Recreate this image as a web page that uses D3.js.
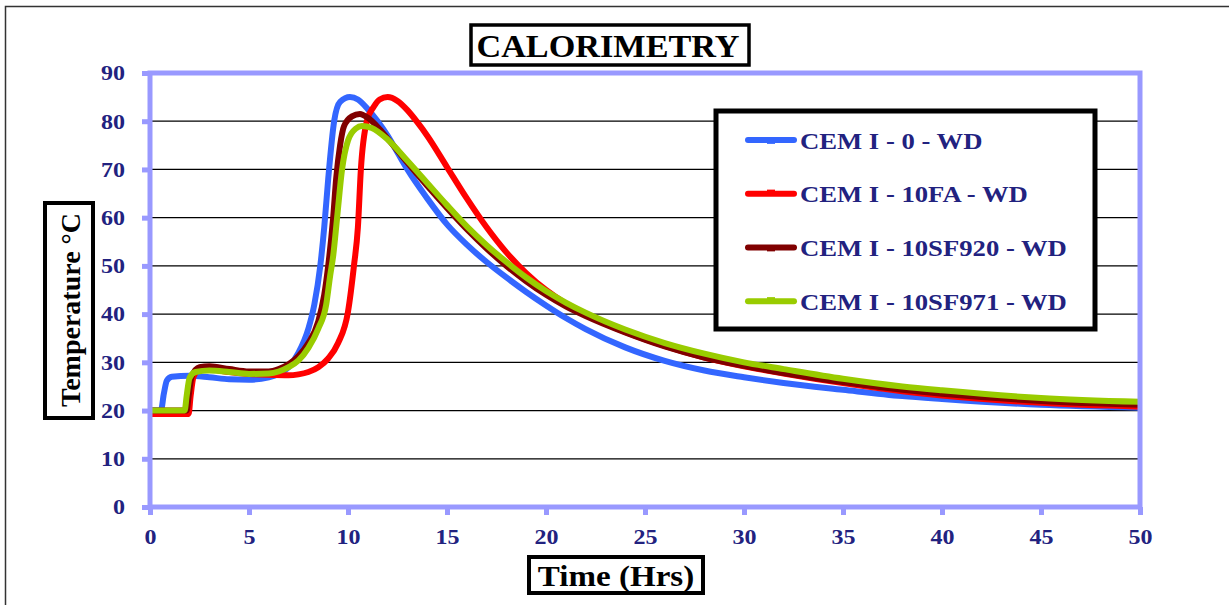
<!DOCTYPE html>
<html>
<head>
<meta charset="utf-8">
<script src="https://cdn.jsdelivr.net/npm/d3@7"></script>
<style>
    body { margin: 0; background: #fff; }
    text { font-family: "Liberation Serif", "Times New Roman", serif; font-weight: bold; }
</style>
</head>
<body>
<div id="chart"></div>
<script>
// series: [hours, temperature °C]
const seriesNames = ['CEM I - 0 - WD', 'CEM I - 10FA - WD', 'CEM I - 10SF920 - WD', 'CEM I - 10SF971 - WD'];
const seriesColors = ['#3366FF', '#FF0000', '#800000', '#99CC00'];

const cem0 = [[0, 20], [0.55, 20], [0.7, 23.5], [0.85, 26.2], [1.1, 27], [2, 27.2], [3, 26.9], [4, 26.5],
    [5, 26.4], [6, 26.9], [6.5, 27.6], [7, 29], [7.5, 32], [8, 37], [8.3, 42], [8.6, 50], [8.8, 58],
    [9, 68], [9.3, 80], [9.6, 84], [10.1, 85], [10.5, 84.5], [11, 82.5], [11.5, 80], [12, 77],
    [12.5, 73.5], [13, 70], [14, 64], [15, 58.6], [16, 54.4], [17, 50.8], [18, 47.6], [19, 44.6],
    [20, 41.8], [21, 39.2], [22, 36.9], [24, 33.1], [26, 30.3], [28, 28.3], [30, 26.9], [32, 25.7],
    [35, 24.3], [38, 23], [40, 22.4], [45, 21.2], [50, 20.6]];

const cem10fa = [[0, 19.3], [1.95, 19.3], [2.05, 23], [2.2, 27], [2.5, 28.4], [3, 28.5], [4, 28],
    [5, 27.6], [6, 27.4], [7, 27.3], [7.5, 27.5], [8, 28], [8.5, 29], [9, 30.8], [9.5, 34], [10, 40.5],
    [10.3, 50], [10.5, 58], [10.65, 70], [10.95, 80], [11.3, 83], [11.6, 84.5], [12, 85], [12.5, 84.2],
    [13, 82.3], [13.5, 79.8], [14, 77], [15, 70.5], [16, 64], [17, 58], [18, 52.8], [19, 48.5],
    [20, 45], [21, 42.2], [22, 39.9], [23, 38], [24, 36.3], [26, 33.4], [28, 31], [30, 29.2],
    [32, 27.7], [35, 25.7], [38, 24], [40, 23.1], [45, 21.6], [50, 20.8]];

const cem10sf920 = [[0, 20], [1.85, 20], [1.95, 23], [2.1, 27], [2.5, 29], [3, 29.2], [4, 28.6],
    [5, 28.1], [6, 28.1], [6.5, 28.6], [7, 29.6], [7.5, 31.3], [8, 34], [8.5, 38.5], [8.8, 44],
    [9, 50], [9.25, 60], [9.4, 68], [9.6, 75], [9.8, 79], [10.2, 81], [10.6, 81.5], [11, 80.7],
    [11.5, 78.8], [12, 76.4], [13, 71.4], [14, 66.6], [15, 62], [16, 57.6], [17, 53.6], [18, 50],
    [19, 46.8], [20, 44], [21, 41.6], [22, 39.6], [24, 36.2], [26, 33.3], [28, 31], [30, 29.3],
    [32, 27.8], [35, 25.9], [38, 24.3], [40, 23.5], [45, 22], [50, 21.2]];

const cem10sf971 = [[0, 20], [1.75, 20], [1.85, 23], [2, 26.8], [2.3, 28], [3, 28.3], [4, 28],
    [5, 27.6], [6, 27.7], [6.5, 28.1], [7, 29], [7.5, 30.4], [8, 33], [8.5, 37], [8.9, 42],
    [9.1, 48], [9.25, 52], [9.45, 60], [9.7, 70], [10, 76], [10.4, 78.5], [10.7, 79], [11.2, 78.6],
    [12, 76.2], [13, 71.8], [14, 67.2], [15, 62.6], [16, 58.2], [17, 54.3], [18, 50.8], [19, 47.6],
    [20, 44.8], [21, 42.4], [22, 40.3], [24, 36.8], [26, 34], [28, 31.8], [30, 30], [32, 28.6],
    [35, 26.6], [38, 25], [40, 24.2], [45, 22.6], [50, 21.8]];

const allSeries = [cem0, cem10fa, cem10sf920, cem10sf971];
const xTicks = d3.range(0, 51, 5);
const yTicks = d3.range(0, 91, 10);

const width = 1229;
const height = 605;
const plot = { left: 150, top: 73, right: 1140, bottom: 507 };
const navy = '#22227F';
const frameColor = '#9999FF';

const svg = d3.select('#chart').append('svg')
    .attr('width', width)
    .attr('height', height);

// outer chart border
svg.append('rect')
    .attr('x', 5.5).attr('y', 6.5)
    .attr('width', width + 20).attr('height', height + 20)
    .attr('fill', 'none')
    .attr('stroke', '#333')
    .attr('stroke-width', 1.5);

const x = d3.scaleLinear().domain([0, 50]).range([plot.left, plot.right]);
const y = d3.scaleLinear().domain([0, 90]).range([plot.bottom, plot.top]);

// gridlines
svg.append('g')
    .selectAll('line')
    .data(yTicks.filter(d => d > 0 && d < 90))
    .enter().append('line')
    .attr('x1', plot.left)
    .attr('x2', plot.right)
    .attr('y1', d => y(d))
    .attr('y2', d => y(d))
    .attr('stroke', '#000')
    .attr('stroke-width', 1.2);

// helper: place text, widened a bit like the original picture
function place(sel, px, py, k) {
    sel.attr('transform', `translate(${px},${py}) scale(${k},1)`);
}

// y axis ticks + labels
const yAxis = svg.append('g')
    .attr('transform', `translate(${plot.left},0)`)
    .call(d3.axisLeft(y).tickValues(yTicks).tickSize(8).tickPadding(0).tickFormat(d3.format('d')));
yAxis.select('.domain').remove();
yAxis.selectAll('.tick line').attr('stroke', frameColor).attr('stroke-width', 5);
yAxis.selectAll('.tick text')
    .attr('x', null).attr('dy', null)
    .attr('fill', navy)
    .style('font-size', '20px')
    .attr('text-anchor', 'end')
    .attr('dominant-baseline', 'central')
    .each(function () { place(d3.select(this), -25, 0, 1.2); });

// x axis ticks + labels
const xAxis = svg.append('g')
    .attr('transform', `translate(0,${plot.bottom})`)
    .call(d3.axisBottom(x).tickValues(xTicks).tickSize(8).tickPadding(0));
xAxis.select('.domain').remove();
xAxis.selectAll('.tick line').attr('stroke', frameColor).attr('stroke-width', 5);
xAxis.selectAll('.tick text')
    .attr('y', null).attr('dy', null)
    .attr('fill', navy)
    .style('font-size', '20px')
    .attr('text-anchor', 'middle')
    .attr('dominant-baseline', 'central')
    .each(function () { place(d3.select(this), 0, 30, 1.2); });

// lines
const line = d3.line()
    .x(d => x(d[0]))
    .y(d => y(d[1]))
    .curve(d3.curveMonotoneX);

svg.append('g')
    .selectAll('path')
    .data(allSeries)
    .enter().append('path')
    .attr('d', line)
    .attr('fill', 'none')
    .attr('stroke', (d, i) => seriesColors[i])
    .attr('stroke-width', 6)
    .attr('stroke-linejoin', 'round');

// plot frame
svg.append('rect')
    .attr('x', plot.left).attr('y', plot.top)
    .attr('width', plot.right - plot.left)
    .attr('height', plot.bottom - plot.top)
    .attr('fill', 'none')
    .attr('stroke', frameColor)
    .attr('stroke-width', 5);

// title
svg.append('rect')
    .attr('x', 471).attr('y', 25).attr('width', 278).attr('height', 40)
    .attr('fill', '#fff').attr('stroke', '#000').attr('stroke-width', 3.5);
svg.append('text')
    .text('CALORIMETRY')
    .attr('text-anchor', 'middle')
    .attr('dominant-baseline', 'central')
    .style('font-size', '32px')
    .attr('fill', '#000')
    .call(place, 608, 46, 1.07);

// x axis title
svg.append('rect')
    .attr('x', 529).attr('y', 557).attr('width', 174).attr('height', 36)
    .attr('fill', '#fff').attr('stroke', '#000').attr('stroke-width', 4);
svg.append('text')
    .text('Time (Hrs)')
    .attr('text-anchor', 'middle')
    .attr('dominant-baseline', 'central')
    .style('font-size', '29px')
    .attr('fill', '#000')
    .call(place, 616, 576, 1.14);

// y axis title
svg.append('rect')
    .attr('x', 45).attr('y', 203).attr('width', 48).attr('height', 215)
    .attr('fill', '#fff').attr('stroke', '#000').attr('stroke-width', 4);
svg.append('text')
    .text('Temperature °C')
    .attr('text-anchor', 'middle')
    .attr('dominant-baseline', 'central')
    .style('font-size', '28px')
    .attr('fill', '#000')
    .attr('transform', 'translate(70,310) rotate(-90)');

// legend
const legend = svg.append('g').attr('class', 'legend');
legend.append('rect')
    .attr('x', 716).attr('y', 111).attr('width', 379).attr('height', 218)
    .attr('fill', '#fff').attr('stroke', '#000').attr('stroke-width', 5);

const legendRow = d3.scaleBand()
    .domain(seriesNames)
    .range([113, 328]);

const entry = legend.selectAll('.entry')
    .data(seriesNames)
    .enter().append('g')
    .attr('class', 'entry')
    .attr('transform', d => `translate(0,${legendRow(d) + legendRow.bandwidth() / 2})`);

entry.append('line')
    .attr('x1', 748).attr('x2', 794)
    .attr('stroke', (d, i) => seriesColors[i])
    .attr('stroke-width', 6)
    .attr('stroke-linecap', 'round');

entry.append('rect')
    .attr('x', 767).attr('width', 8)
    .attr('y', (d, i) => (i % 2 === 0 ? 1 : -4))
    .attr('height', 3)
    .attr('fill', (d, i) => seriesColors[i]);

entry.append('text')
    .text(d => d)
    .attr('dominant-baseline', 'central')
    .attr('fill', navy)
    .style('font-size', '23px')
    .call(place, 800, 1, 1.16);
</script>
</body>
</html>
